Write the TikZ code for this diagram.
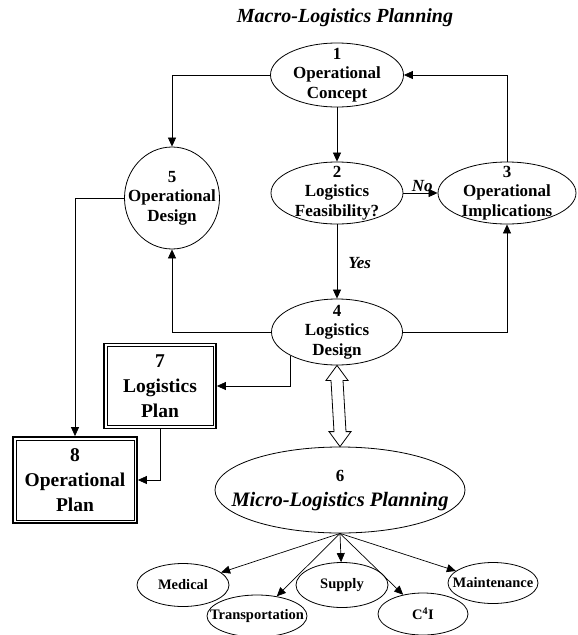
\documentclass[tikz,border=0pt]{standalone}
\usepackage{fontspec}
\setmainfont{Liberation Serif}
\usetikzlibrary{shapes.geometric,arrows.meta,calc}

\begin{document}
\begin{tikzpicture}[x=1pt,y=-1pt,
  ell/.style={draw, ellipse, inner sep=0pt, line width=0.8pt},
  planbox/.style={draw, rectangle, inner sep=0pt, line width=1.8pt},
  lab/.style={align=center, inner sep=0pt, font=\fontsize{17}{19.5}\selectfont\bfseries},
  boxlab/.style={align=center, inner sep=0pt, font=\fontsize{19.5}{25}\selectfont\bfseries},
  small/.style={inner sep=0pt, font=\fontsize{14.5}{16}\selectfont\bfseries},
  flowtag/.style={inner sep=1pt, font=\fontsize{17}{20}\selectfont\bfseries\itshape},
  arr/.style={-{Triangle[length=9pt,width=8pt]}, line width=0.7pt},
  fat/.style={draw, fill=white, line width=0.8pt, line join=miter}
]
\useasboundingbox (0,0) rectangle (578,635);

% heading
\node[font=\fontsize{20}{24}\selectfont\bfseries\itshape] (title) at (345,18) {Macro-Logistics Planning};

% macro-level ellipses
\node[ell, minimum width=133pt, minimum height=64pt] (n1) at (337,75) {};
\node[lab] (n1t) at (n1) {1\\Operational\\Concept};

\node[ell, minimum width=132pt, minimum height=62pt] (n2) at (337,193) {};
\node[lab] (n2t) at (n2) {2\\Logistics\\Feasibility?};

\node[ell, minimum width=138pt, minimum height=62pt] (n3) at (507,193) {};
\node[lab] (n3t) at (n3) {3\\Operational\\Implications};

\node[ell, minimum width=131pt, minimum height=66pt] (n4) at (337,332) {};
\node[lab] (n4t) at (n4) {4\\Logistics\\Design};

\node[ell, minimum width=95pt, minimum height=102pt] (n5) at (172,198) {};
\node[lab] (n5t) at (n5) {5\\Operational\\Design};

% plans (double-framed boxes)
\node[planbox, minimum width=112pt, minimum height=85pt] (n7) at (160,386) {};
\draw[line width=0.8pt] ($(n7.north west)+(4,4)$) rectangle ($(n7.south east)+(-4,-4)$);
\node[boxlab] (n7t) at (n7) {7\\Logistics\\Plan};

\node[planbox, minimum width=124pt, minimum height=86pt] (n8) at (75,480) {};
\draw[line width=0.8pt] ($(n8.north west)+(4,4)$) rectangle ($(n8.south east)+(-4,-4)$);
\node[boxlab] (n8t) at (n8) {8\\Operational\\Plan};

% micro-level planning
\node[ell, minimum width=250pt, minimum height=86pt] (n6) at (340,490) {};
\node[inner sep=0pt, font=\fontsize{17}{19}\selectfont\bfseries] (n6num) at (340,476) {6};
\node[inner sep=0pt, font=\fontsize{20.5}{24}\selectfont\bfseries\itshape] (n6t) at (340,502) {Micro-Logistics Planning};

\node[ell, minimum width=92pt, minimum height=43pt] (med) at (183,585) {};
\node[small] (medt) at (med) {Medical};
\node[ell, minimum width=100pt, minimum height=42pt] (trn) at (257,616) {};
\node[small] (trnt) at (trn) {Transportation};
\node[ell, minimum width=92pt, minimum height=45pt] (sup) at (342,585) {};
\node[small] (supt) at (sup) {Supply};
\node[ell, minimum width=90pt, minimum height=42pt] (cfi) at (423,614) {};
\node[small] (cfit) at (cfi) {C\textsuperscript{4}I};
\node[ell, minimum width=90pt, minimum height=41pt] (mnt) at (493,583) {};
\node[small] (mntt) at (mnt) {Maintenance};

% macro-level flow
\draw[arr] (n1.west) -| (n5.north);
\draw[arr] (n1.south) -- (n2.north);
\draw[arr] (n3.north) |- (n1.east);
\draw[arr] (n2.east) -- node[flowtag, anchor=south, pos=0.55] (no) {No} (n3.west);
\draw[arr] (n2.south) -- node[flowtag, anchor=west, pos=0.52, xshift=10pt] (yes) {Yes} (n4.north);
\draw[arr] (n4.east) -| (n3.south);
\draw[arr] (n4.west) -| (n5.south);
\draw[arr] (n4.south west) |- (n7.east);
\draw[arr] (n7.south) |- (n8.east);
\draw[arr] (n5.west) -| (n8.north);

% two-way link between design and micro planning
\draw[fat] (n4.south) -- ($(n4.south)+(11,15)$) -- ($(n4.south)+(6,15)$)
  -- ($(n6.north)+(6,-15)$) -- ($(n6.north)+(11,-15)$) -- (n6.north)
  -- ($(n6.north)+(-11,-15)$) -- ($(n6.north)+(-6,-15)$)
  -- ($(n4.south)+(-6,15)$) -- ($(n4.south)+(-11,15)$) -- cycle;

% micro-level branches
\foreach \t in {med,trn,sup,cfi,mnt}
  \draw[arr] (n6.south) -- (\t);
\end{tikzpicture}
\end{document}
